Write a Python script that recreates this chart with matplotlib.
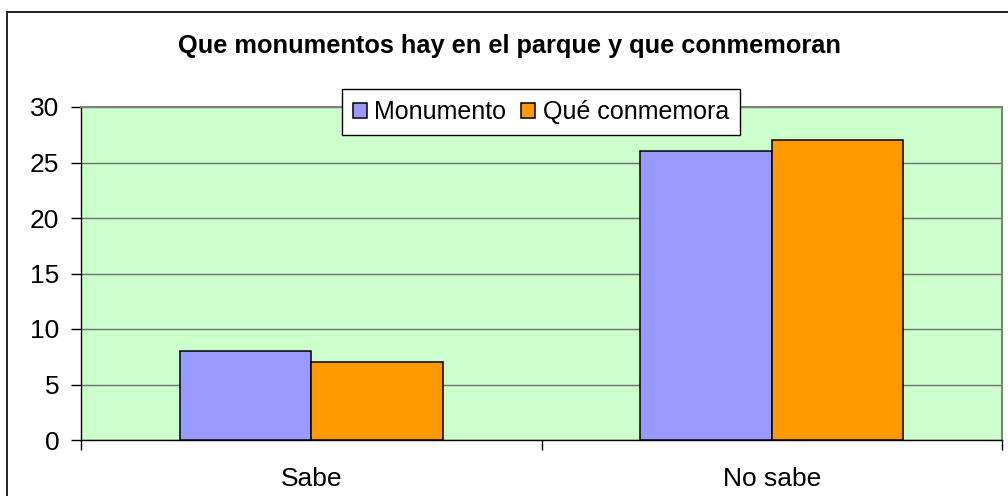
import matplotlib
matplotlib.use("Agg")
import matplotlib.pyplot as plt
from matplotlib.patches import Rectangle
import numpy as np

plt.rcParams['font.family'] = ['Liberation Sans', 'DejaVu Sans']

categories = ["Sabe", "No sabe"]
series_names = ["Monumento", "Qué conmemora"]
monumento = [8, 26]
conmemora = [7, 27]
yticks = [0, 5, 10, 15, 20, 25, 30]
title = "Que monumentos hay en el parque y que conmemoran"

W, H = 1008, 496
fig = plt.figure(figsize=(W / 100, H / 100), dpi=100)
fig.patch.set_facecolor("white")

# chart frame
fig.add_artist(Rectangle((7 / W, -0.1), 1.2, 1 - 12 / H + 0.1,
                         transform=fig.transFigure, fill=False,
                         edgecolor="#222222", lw=1.4))

ax = fig.add_axes([81 / W, 1 - 440 / H, (1002 - 81) / W, (440 - 107) / H])
ax.set_facecolor("#CCFFCC")

x = np.arange(len(categories))
w = 0.2857
ax.bar(x - w / 2, monumento, width=w, color="#9999FF", edgecolor="black",
       lw=1.1, label=series_names[0], zorder=3)
ax.bar(x + w / 2, conmemora, width=w, color="#FF9900", edgecolor="black",
       lw=1.1, label=series_names[1], zorder=3)

ax.set_xlim(-0.5, len(categories) - 0.5)
ax.set_ylim(0, 30)
ax.set_yticks(yticks)
ax.set_yticklabels([str(v) for v in yticks], fontsize=19)
ax.yaxis.grid(True, color="#707070", lw=1.0, zorder=1)
ax.set_axisbelow(True)

ax.set_xticks(x)
ax.set_xticklabels(categories, fontsize=19)
ax.set_xticks(np.arange(-0.5, len(categories)), minor=True)
ax.tick_params(axis="x", which="major", length=0, pad=19.5)
ax.tick_params(axis="x", which="minor", length=7, width=1, color="black", direction="out")
ax.tick_params(axis="y", length=7, width=1, color="black", direction="out", pad=8.5)

for s in ("left", "bottom"):
    ax.spines[s].set_color("black")
    ax.spines[s].set_linewidth(1.0)
for s in ("top", "right"):
    ax.spines[s].set_color("#808080")
    ax.spines[s].set_linewidth(1.5)

fig.text(509 / W, 1 - 46 / H, title, ha="center", va="center",
         fontsize=18.3, fontweight="bold")

leg = ax.legend(loc="center", bbox_to_anchor=(541 / W, 1 - 112 / H),
                bbox_transform=fig.transFigure, ncol=2, fontsize=18,
                frameon=True, fancybox=False, framealpha=1,
                handlelength=0.55, handleheight=0.55, handletextpad=0.3,
                columnspacing=0.6, borderpad=0.45, borderaxespad=0)
leg.get_frame().set_edgecolor("black")
leg.get_frame().set_linewidth(1.0)
leg.set_zorder(5)

fig.savefig("out.png", dpi=100, facecolor="white")
